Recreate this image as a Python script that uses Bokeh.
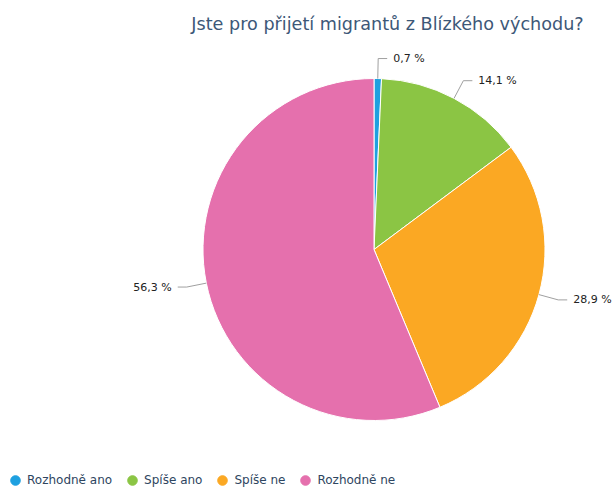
import math
from bokeh.plotting import figure
from bokeh.models import Range1d, ColumnDataSource, Legend, LegendItem
from bokeh.core.properties import value
from bokeh.embed import file_html
from bokeh.resources import INLINE

title_text = "Jste pro přijetí migrantů z Blízkého východu?"
categories = ["Rozhodně ano", "Spíše ano", "Spíše ne", "Rozhodně ne"]
values = [0.7, 14.1, 28.9, 56.3]
labels = ["0,7 %", "14,1 %", "28,9 %", "56,3 %"]
colors = ["#1ea0e0", "#8bc544", "#fba823", "#e570ad"]

W, H = 613, 488
p = figure(width=W, height=H, output_backend="svg", toolbar_location=None,
           x_range=Range1d(0, W), y_range=Range1d(0, H),
           min_border=0, outline_line_color=None)
p.axis.visible = False
p.grid.visible = False
p.background_fill_color = "white"

cx, cy, r = 373.5, 488 - 249, 171
total = sum(values)
starts, ends, mids = [], [], []
cum = 0.0
for v in values:
    a0 = math.pi / 2 - cum / total * 2 * math.pi
    cum += v
    a1 = math.pi / 2 - cum / total * 2 * math.pi
    starts.append(a0); ends.append(a1); mids.append((a0 + a1) / 2)

src = ColumnDataSource(dict(start=starts, end=ends, color=colors, cat=categories))
p.wedge(x=cx, y=cy, radius=r, start_angle="start", end_angle="end", direction="clock",
        fill_color="color", line_color="white", line_width=1, source=src)

# connectors and labels
for m, lab in zip(mids, labels):
    ex, ey = cx + r * math.cos(m), cy + r * math.sin(m)
    bx, by = cx + (r + 20) * math.cos(m), cy + (r + 20) * math.sin(m)
    right = math.cos(m) >= 0
    hx = bx + (9 if right else -9)
    p.line([ex, bx, hx], [ey, by, by], line_color="#a0a0a0", line_width=1)
    p.text([hx + (6 if right else -6)], [by], text=[lab], text_font=value("DejaVu Sans"),
           text_font_size="11px", text_color="#222222", text_baseline="middle",
           text_align="left" if right else "right")

p.text([387], [488 - 23], text=[title_text], text_font=value("DejaVu Sans"),
       text_font_size="17.6px", text_color="#3d5878", text_baseline="middle",
       text_align="center")

# legend with circle markers
items = []
for c, cat in zip(colors, categories):
    rr = p.scatter([-1000], [-1000], marker="circle", fill_color=c, line_color=c)
    items.append(LegendItem(label=cat, renderers=[rr]))
legend = Legend(items=items, orientation="horizontal", location=(3, -4),
                glyph_width=24, glyph_height=24, label_standoff=0, spacing=8,
                padding=0, margin=0, border_line_alpha=0, background_fill_alpha=0,
                label_text_font="DejaVu Sans", label_text_font_size="12px",
                label_text_color="#2e4560", label_height=14)
p.add_layout(legend, "center")

open("out.html", "w").write(file_html(p, INLINE))
